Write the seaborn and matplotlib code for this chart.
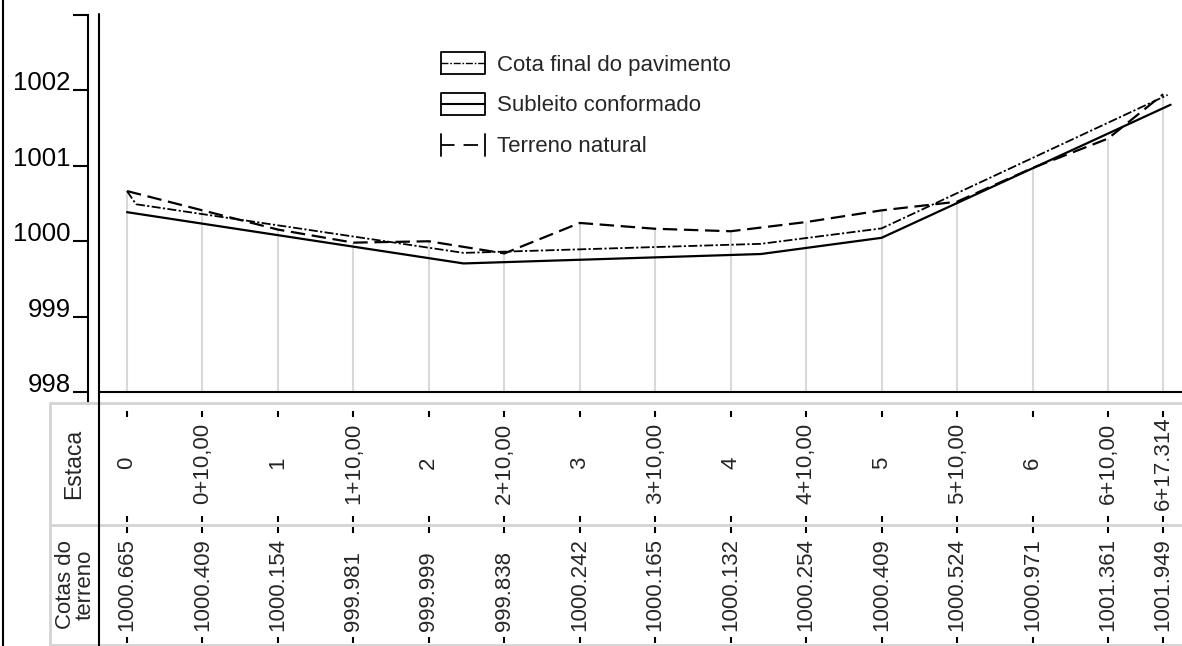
import matplotlib
matplotlib.use('Agg')
import matplotlib.pyplot as plt
from matplotlib.lines import Line2D
from matplotlib.legend_handler import HandlerBase
import seaborn as sns
import pandas as pd

# Dados do perfil longitudinal
estacas = ['0', '0+10,00', '1', '1+10,00', '2', '2+10,00', '3', '3+10,00',
           '4', '4+10,00', '5', '5+10,00', '6', '6+10,00', '6+17.314']
distancias = [0, 10, 20, 30, 40, 50, 60, 70, 80, 90, 100, 110, 120, 130, 137.314]
cotas_terreno = [1000.665, 1000.409, 1000.154, 999.981, 999.999, 999.838, 1000.242,
                 1000.165, 1000.132, 1000.254, 1000.409, 1000.524, 1000.971,
                 1001.361, 1001.949]

# Greide
subleito_dist = [0, 44.6, 84.0, 100.0, 138.3]
subleito_cota = [1000.385, 999.705, 999.83, 1000.045, 1001.81]
pavimento_dist = [0, 1.2, 44.6, 84.0, 100.0, 137.9]
pavimento_cota = [1000.665, 1000.49, 999.845, 999.965, 1000.17, 1001.94]

y_ticks = [998, 999, 1000, 1001, 1002, 1003]
y_labels = ['998', '999', '1000', '1001', '1002', '']

sns.set_style('white')
plt.rcParams['font.family'] = ['Liberation Sans', 'DejaVu Sans']

W, H = 1182, 646
fig = plt.figure(figsize=(W / 100, H / 100), dpi=100)


def fx(px):
    return px / W


def fy(py):
    return 1 - py / H


px_per_m = (1108 - 127) / 130
x_min = (99 - 127) / px_per_m
x_max = (1182 - 127) / px_per_m

ax = fig.add_axes([fx(99), fy(392), fx(1182) - fx(99), fy(15) - fy(392)])
ax_t = fig.add_axes([fx(99), fy(646), fx(1182) - fx(99), fy(403) - fy(646)])

ls_terreno = (0, (6.5, 3))
ls_pav = (0, (5, 1.3, 1.2, 1.3))

df_terreno = pd.DataFrame({'dist': distancias, 'cota': cotas_terreno})
df_sub = pd.DataFrame({'dist': subleito_dist, 'cota': subleito_cota})
df_pav = pd.DataFrame({'dist': pavimento_dist, 'cota': pavimento_cota})

# linhas verticais cinza do terreno ate a base
ax.vlines(distancias, 998, cotas_terreno, colors='#d9d9d9', lw=1.5, zorder=1)

sns.lineplot(data=df_pav, x='dist', y='cota', ax=ax, color='black', lw=1.3,
             linestyle=ls_pav, sort=False, zorder=3)
sns.lineplot(data=df_sub, x='dist', y='cota', ax=ax, color='black', lw=1.6,
             sort=False, zorder=3)
sns.lineplot(data=df_terreno, x='dist', y='cota', ax=ax, color='black', lw=1.6,
             linestyle=ls_terreno, sort=False, zorder=3)

ax.set_xlim(x_min, x_max)
ax.set_ylim(998, 1003)
ax.set_xlabel('')
ax.set_ylabel('')
ax.set_xticks([])
ax.tick_params(axis='y', direction='out', length=11, width=1.5, pad=1.5, left=True,
               colors='black', labelsize=18.5)
ax.set_yticks(y_ticks)
ax.set_yticklabels(y_labels)
for s in ['top', 'right']:
    ax.spines[s].set_visible(False)
ax.spines['left'].set_position(('outward', 8))
ax.spines['left'].set_bounds(997.85, 1003)
ax.spines['left'].set_linewidth(1.5)
ax.spines['left'].set_color('black')
ax.spines['bottom'].set_linewidth(1.5)
ax.spines['bottom'].set_color('black')


class BoxHandler(HandlerBase):
    def __init__(self, line_ls, lw, full_frame=True):
        super().__init__()
        self.line_ls = line_ls
        self.lw = lw
        self.full_frame = full_frame

    def create_artists(self, legend, orig_handle, xdescent, ydescent, width, height,
                       fontsize, trans):
        x0, y0 = -xdescent, -ydescent
        x1, y1 = x0 + width, y0 + height
        arts = []
        if self.full_frame:
            xs, ys = [x0, x1, x1, x0, x0], [y0, y0, y1, y1, y0]
            arts.append(Line2D(xs, ys, color='black', lw=1.3, transform=trans))
        else:
            arts.append(Line2D([x0, x0], [y0, y1], color='black', lw=1.3, transform=trans))
            arts.append(Line2D([x1, x1], [y0, y1], color='black', lw=1.3, transform=trans))
        arts.append(Line2D([x0, x1], [(y0 + y1) / 2] * 2, color='black',
                           lw=self.lw, linestyle=self.line_ls, transform=trans))
        return arts


h_pav = Line2D([], [], color='black')
h_sub = Line2D([], [], color='black')
h_ter = Line2D([], [], color='black')
leg = ax.legend([h_pav, h_sub, h_ter],
                ['Cota final do pavimento', 'Subleito conformado', 'Terreno natural'],
                handler_map={h_pav: BoxHandler(ls_pav, 1.0),
                             h_sub: BoxHandler('-', 1.5),
                             h_ter: BoxHandler((0.5, (8, 5)), 1.3, full_frame=False)},
                loc='upper left', bbox_to_anchor=(fx(441), fy(52)),
                bbox_transform=fig.transFigure, frameon=False, fontsize=16,
                handlelength=2.0, handleheight=1.15, handletextpad=0.5,
                labelspacing=0.78, borderpad=0, borderaxespad=0)

# rotulos do eixo y acima do traco
for lab in ax.get_yticklabels():
    lab.set_va('baseline')

# tabela inferior
ax_t.set_xlim(x_min, x_max)
ax_t.set_ylim(0, 1)
ax_t.axis('off')


def ty(py):
    return (646 - py) / (646 - 403)


for a, b in [(411, 417), (516, 522), (527, 533), (637, 643)]:
    ax_t.vlines(distancias, ty(b), ty(a), colors='black', lw=1.5)

for d, e, c in zip(distancias, estacas, cotas_terreno):
    ax_t.text(d, ty(463), e, rotation=90, ha='center', va='center', fontsize=16)
    ax_t.text(d, ty(631), f'{c:.3f}', rotation=90, ha='center', va='bottom', fontsize=16)

fig.text(fx(74), fy(464), 'Estaca', rotation=90, ha='center', va='center', fontsize=16.5)
fig.text(fx(75), fy(585), 'Cotas do\nterreno', rotation=90, ha='center', va='center',
         fontsize=16, multialignment='center', linespacing=0.9)

cinza = '#d4d4d4'
fig.add_artist(Line2D([fx(50), 1], [fy(403), fy(403)], color=cinza, lw=2))
fig.add_artist(Line2D([fx(50), 1], [fy(525), fy(525)], color=cinza, lw=2))
fig.add_artist(Line2D([fx(50), 1], [fy(645), fy(645)], color=cinza, lw=2))
fig.add_artist(Line2D([fx(50), fx(50)], [fy(403), fy(646)], color=cinza, lw=2))
fig.add_artist(Line2D([fx(99), fx(99)], [fy(14), 0], color='black', lw=1.5))
fig.add_artist(Line2D([fx(3), fx(3)], [0, 1], color='black', lw=1.5))

fig.savefig('out.png', dpi=100)
